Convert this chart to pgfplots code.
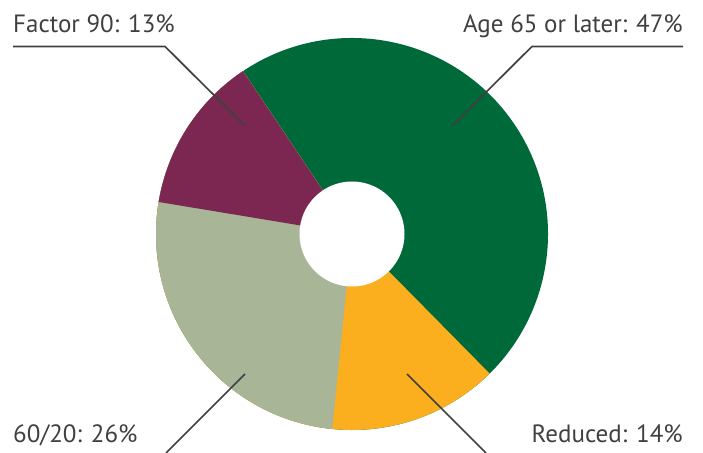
\documentclass[border=0pt]{standalone}
\usepackage{pgfplots}
\pgfplotsset{compat=1.18}
\usepackage{fontspec}
\setmainfont{PT Sans}
\definecolor{cgreen}{HTML}{00693A}
\definecolor{corange}{HTML}{FBAF1E}
\definecolor{csage}{HTML}{A8B596}
\definecolor{cmaroon}{HTML}{7B2751}
\definecolor{ctext}{HTML}{404040}
% shares (percent), clockwise starting at 123.8 degrees
\def\vAge{47}\def\vRed{14}\def\vSixty{26}\def\vFac{13}
\def\cx{352}\def\cy{219}\def\Rout{196}\def\Rin{52.5}
\newcommand{\slice}[3]{% start angle, value, colour
  \pgfmathsetmacro\endang{#1-3.6*#2}%
  \fill[#3] (axis cs:\cx,\cy) -- ++(#1:\Rout bp) arc[start angle=#1, end angle=\endang, radius=\Rout bp] -- cycle;}
\begin{document}
\begin{tikzpicture}
\begin{axis}[name=ax, x=1bp, y=1bp, xmin=0, xmax=703, ymin=0, ymax=453,
  hide axis, clip=true]
\pgfmathsetmacro\aA{123.8}
\pgfmathsetmacro\aB{\aA-3.6*\vAge}
\pgfmathsetmacro\aC{\aB-3.6*\vRed}
\pgfmathsetmacro\aD{\aC-3.6*\vSixty}
\edef\doslices{%
\noexpand\slice{\aA}{\vAge}{cgreen}%
\noexpand\slice{\aB}{\vRed}{corange}%
\noexpand\slice{\aC}{\vSixty}{csage}%
\noexpand\slice{\aD}{\vFac}{cmaroon}}
\doslices
\fill[white] (axis cs:\cx,\cy) circle[radius=\Rin bp];
% leader lines
\addplot[ctext, line width=1.7bp, no marks] coordinates {(13,406.5) (165,406.5) (245,327)};
\addplot[ctext, line width=1.7bp, no marks] coordinates {(683,406.5) (532,406.5) (452,327)};
\addplot[ctext, line width=1.7bp, no marks] coordinates {(245,79) (166,0)};
\addplot[ctext, line width=1.7bp, no marks] coordinates {(407,79) (486,0)};
% labels
\node[anchor=base west, inner sep=0pt, text=ctext, font=\fontsize{25bp}{30bp}\selectfont] at (axis cs:13,420) {Factor 90: 13\%};
\node[anchor=base east, inner sep=0pt, text=ctext, font=\fontsize{25bp}{30bp}\selectfont] at (axis cs:683,420) {Age 65 or later: 47\%};
\node[anchor=base west, inner sep=0pt, text=ctext, font=\fontsize{25bp}{30bp}\selectfont] at (axis cs:13,10.5) {60/20: 26\%};
\node[anchor=base east, inner sep=0pt, text=ctext, font=\fontsize{25bp}{30bp}\selectfont] at (axis cs:683,10.5) {Reduced: 14\%};
\end{axis}
\pgfresetboundingbox
\useasboundingbox (ax.south west) rectangle (ax.north east);
\end{tikzpicture}
\end{document}
